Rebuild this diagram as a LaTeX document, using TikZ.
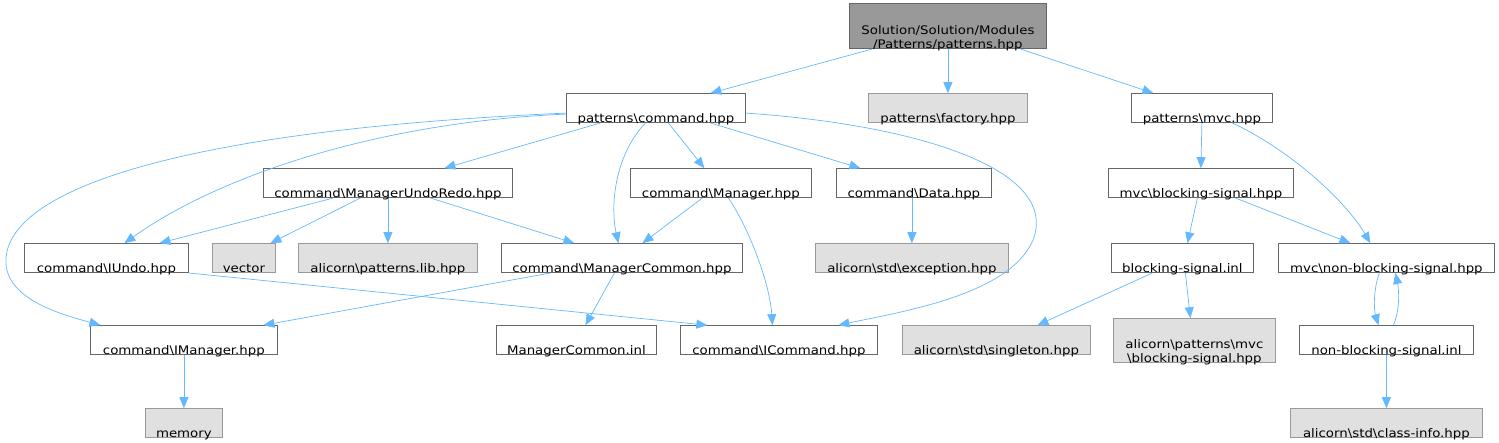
\documentclass[tikz,border=0pt]{standalone}
\usepackage{fontspec}
\setmainfont{DejaVu Sans}[FakeStretch=1.13]
\usepackage{xcolor}
\usepackage{tikz}
\usetikzlibrary{arrows.meta}

\definecolor{edgeblue}{HTML}{63B8FF}
\newcommand{\bsl}{\textbackslash}
\newcommand{\fname}{\fontsize{11.8}{14}\selectfont}

\begin{document}
\begin{tikzpicture}[
  x=1pt, y=-1pt,
  file/.style = {
    rectangle, draw=black!60, fill=white,
    anchor=south west, inner sep=0pt,
    text height=29pt, text depth=-2pt,
    font=\fname, line width=0.8pt
  },
  sysfile/.style = {file, draw=black!40, fill=black!12},
  topfile/.style = {file, draw=black!60, fill=black!40},
  arr/.style = {-{Triangle[length=11pt,width=9pt]}, line width=0.7pt, edgeblue}
]
\useasboundingbox (0,0) rectangle (1499,443);

% Top: the documented file
\node[topfile, minimum width=197pt, text height=45pt] (root) at (849,49)
  {\begin{tabular}[b]{@{}c@{}}Solution/Solution/Modules\\/Patterns/patterns.hpp\end{tabular}};

% Row 1
\node[file,    minimum width=179pt] (cmd)     at (566,123)  {patterns\bsl command.hpp};
\node[sysfile, minimum width=159pt] (factory) at (868,123)  {patterns\bsl factory.hpp};
\node[file,    minimum width=141pt] (mvc)     at (1131,123) {patterns\bsl mvc.hpp};

% Row 2
\node[file, minimum width=249pt] (undoredo) at (263,198)  {command\bsl ManagerUndoRedo.hpp};
\node[file, minimum width=181pt] (manager)  at (630,198)  {command\bsl Manager.hpp};
\node[file, minimum width=155pt] (data)     at (836,198)  {command\bsl Data.hpp};
\node[file, minimum width=185pt] (bsig)     at (1108,198) {mvc\bsl blocking-signal.hpp};

% Row 3
\node[file,    minimum width=164pt] (iundo)     at (24,273)   {command\bsl IUndo.hpp};
\node[sysfile, minimum width=63pt]  (vector)    at (212,273)  {vector};
\node[sysfile, minimum width=179pt] (plib)      at (298,273)  {alicorn\bsl patterns.lib.hpp};
\node[file,    minimum width=241pt] (mcommon)   at (501,273)  {command\bsl ManagerCommon.hpp};
\node[sysfile, minimum width=193pt] (exception) at (815,273)  {alicorn\bsl std\bsl exception.hpp};
\node[file,    minimum width=142pt] (bsiginl)   at (1111,273) {blocking-signal.inl};
\node[file,    minimum width=216pt] (nbsig)     at (1278,273) {mvc\bsl non-blocking-signal.hpp};

% Row 4
\node[file,    minimum width=187pt] (imanager)  at (90,355)   {command\bsl IManager.hpp};
\node[file,    minimum width=160pt] (mcinl)     at (496,355)  {ManagerCommon.inl};
\node[file,    minimum width=197pt] (icommand)  at (680,355)  {command\bsl ICommand.hpp};
\node[sysfile, minimum width=188pt] (singleton) at (902,355)  {alicorn\bsl std\bsl singleton.hpp};
\node[sysfile, minimum width=162pt, text height=44pt] (amvc) at (1113,363)
  {\begin{tabular}[b]{@{}c@{}}alicorn\bsl patterns\bsl mvc\\\bsl blocking-signal.hpp\end{tabular}};
\node[file,    minimum width=174pt] (nbsiginl)  at (1299,355) {non-blocking-signal.inl};

% Row 5
\node[sysfile, minimum width=77pt]  (memory)    at (145,438)  {memory};
\node[sysfile, minimum width=192pt] (classinfo) at (1290,438) {alicorn\bsl std\bsl class-info.hpp};

% root includes
\draw[arr] ([xshift=-75.5pt]root.south) -- ([xshift=54.5pt]cmd.north);
\draw[arr] (root.south) -- (factory.north);
\draw[arr] ([xshift=72.5pt]root.south) -- ([xshift=-48.5pt]mvc.north);

% command.hpp includes
\draw[arr] ([xshift=-55.5pt]cmd.south) -- ([xshift=56.5pt]undoredo.north);
\draw[arr] ([xshift=12.5pt]cmd.south) -- ([xshift=-16.5pt]manager.north);
\draw[arr] ([xshift=54.5pt]cmd.south) -- ([xshift=-53.5pt]data.north);
\draw[arr] ([xshift=-10.5pt]cmd.south) .. controls (615,155) and (610,205) .. ([xshift=-3.5pt]mcommon.north);
\draw[arr] ([yshift=-6pt]cmd.west) .. controls (380,122) and (220,175) .. ([xshift=18pt]iundo.north);
\draw[arr] ([yshift=-5pt]cmd.west) .. controls (180,130) and (0,190) .. (6,265)
  .. controls (10,300) and (60,314) .. ([xshift=-83.5pt]imanager.north);
\draw[arr] ([yshift=-5pt]cmd.east) .. controls (920,125) and (1060,170) .. (1033,240)
  .. controls (1010,295) and (900,312) .. ([xshift=59.5pt]icommand.north);

% ManagerUndoRedo.hpp includes
\draw[arr] ([xshift=-54.5pt]undoredo.south) -- ([xshift=53pt]iundo.north);
\draw[arr] ([xshift=-27.5pt]undoredo.south) -- ([xshift=26.5pt]vector.north);
\draw[arr] (undoredo.south) -- (plib.north);
\draw[arr] ([xshift=42.5pt]undoredo.south) -- ([xshift=-47.5pt]mcommon.north);

% Manager.hpp, Data.hpp
\draw[arr] ([xshift=-18.5pt]manager.south) -- ([xshift=20.5pt]mcommon.north);
\draw[arr] ([xshift=7.5pt]manager.south) .. controls (750,230) and (770,285) .. ([xshift=-6.5pt]icommand.north);
\draw[arr] ([xshift=-2pt]data.south) -- (exception.north);

% IUndo.hpp, ManagerCommon.hpp, IManager.hpp
\draw[arr] (iundo.south east) -- ([xshift=-71.5pt]icommand.north);
\draw[arr] ([xshift=-71.5pt]mcommon.south) -- ([xshift=79.5pt]imanager.north);
\draw[arr] ([xshift=-7.5pt]mcommon.south) -- ([xshift=9pt]mcinl.north);
\draw[arr] (imanager.south) -- (memory.north);

% mvc side
\draw[arr] (mvc.south) -- (bsig.north);
\draw[arr] ([xshift=30.5pt]mvc.south) .. controls (1290,150) and (1345,200) .. ([xshift=-16pt]nbsig.north);
\draw[arr] ([xshift=-3.5pt]bsig.south) -- ([xshift=5pt]bsiginl.north);
\draw[arr] ([xshift=34.5pt]bsig.south) -- ([xshift=-36pt]nbsig.north);
\draw[arr] ([xshift=-30pt]bsiginl.south) -- ([xshift=41pt]singleton.north);
\draw[arr] ([xshift=3pt]bsiginl.south) -- ([xshift=-4pt]amvc.north);
\draw[arr] ([xshift=-7pt]nbsig.south) .. controls (1373,290) and (1374,310) .. ([xshift=-8pt]nbsiginl.north);
\draw[arr] ([xshift=7pt]nbsiginl.north) .. controls (1400,310) and (1399,290) .. ([xshift=9pt]nbsig.south);
\draw[arr] (nbsiginl.south) -- (classinfo.north);
\end{tikzpicture}
\end{document}
